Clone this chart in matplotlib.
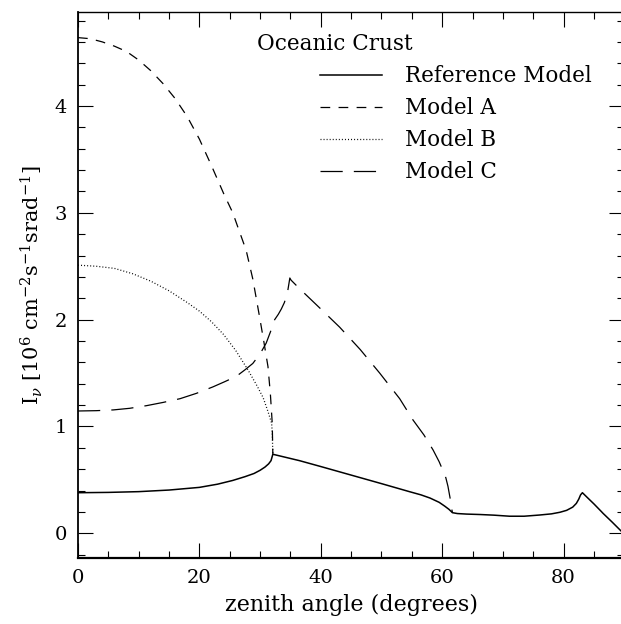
import matplotlib
matplotlib.use("Agg")
import matplotlib.pyplot as plt

# zenith angle (degrees) and intensity
ref_x = [0, 5, 10, 15, 20, 23, 25.5, 27.5, 29, 30, 30.8, 31.4, 31.8, 32.1,
         36.5, 40, 45, 50, 54.6, 56.5, 58.0, 59.5, 60.4, 61.1, 61.7,
         62.5, 64, 66.2, 68.5, 71.1, 73.5, 76.0, 78, 79.4, 80.5, 81.5, 82.1,
         82.5, 82.8, 83.1, 84, 85, 86.2, 86.5, 88, 89.5, 90]
ref_y = [0.38, 0.383, 0.39, 0.405, 0.43, 0.46, 0.495, 0.53, 0.56, 0.59, 0.62, 0.65, 0.68, 0.74,
         0.68, 0.625, 0.545, 0.465, 0.39, 0.36, 0.33, 0.29, 0.255, 0.225, 0.193,
         0.185, 0.18, 0.176, 0.17, 0.16, 0.16, 0.171, 0.182, 0.197, 0.215, 0.245, 0.28,
         0.32, 0.36, 0.38, 0.33, 0.275, 0.205, 0.187, 0.105, 0.02, 0.0]

a_x = [0, 2, 4, 6, 8, 10, 12, 14, 16, 18, 20, 22, 24, 25.5, 26.5, 27.7, 28.8,
       29.9, 30.6, 31.3, 31.7, 32.0, 32.1]
a_y = [4.64, 4.63, 4.60, 4.56, 4.51, 4.43, 4.33, 4.21, 4.07, 3.90, 3.69, 3.44, 3.18,
       3.0, 2.84, 2.65, 2.38, 2.03, 1.80, 1.56, 1.30, 1.03, 0.74]

b_x = [0, 3, 6, 9, 12, 15, 18, 20, 22, 24, 26, 28, 29.5, 30.5, 31.3, 31.9, 32.0, 32.1]
b_y = [2.51, 2.50, 2.48, 2.43, 2.36, 2.27, 2.16, 2.08, 1.98, 1.86, 1.71, 1.53,
       1.38, 1.27, 1.14, 1.03, 0.95, 0.74]

c_x = [0, 3, 5.8, 8.5, 11.3, 14, 16.8, 19.5, 22.2, 24.2, 26.1, 27.5, 28.8, 30, 31.0,
       31.8, 32.4, 33.0, 33.5, 34.0, 34.5, 34.9, 35.1,
       36.5, 40, 43.1, 46.5, 49.7, 53.0, 55.2, 57, 58.5, 59.5, 60.1, 60.6, 60.95,
       61.3, 61.5, 61.7]
c_y = [1.145, 1.148, 1.155, 1.17, 1.195, 1.225, 1.26, 1.31, 1.37, 1.42, 1.47, 1.53,
       1.59, 1.68, 1.78, 1.90, 2.0, 2.05, 2.10, 2.16, 2.25, 2.39, 2.37,
       2.29, 2.10, 1.93, 1.72, 1.50, 1.26, 1.06, 0.92, 0.78, 0.67, 0.59, 0.52, 0.44,
       0.33, 0.25, 0.19]

plt.rcParams["font.family"] = "DejaVu Serif"
plt.rcParams["mathtext.fontset"] = "dejavuserif"
plt.rcParams["lines.scale_dashes"] = False

fig = plt.figure(figsize=(6.21, 6.24), dpi=100)
ax = fig.add_axes([0.1256, 0.1063, 0.8797, 0.8745])

ax.plot(ref_x, ref_y, color="black", lw=1.1, label="Reference Model")
ax.plot(a_x, a_y, color="black", lw=0.9, dashes=(7, 6), label="Model A")
ax.plot(b_x, b_y, color="black", lw=0.9, dashes=(0.7, 1.5), label="Model B")
ax.plot(c_x, c_y, color="black", lw=0.9, dashes=(16, 8), label="Model C")

ax.set_xlim(0, 90)
ax.set_ylim(-0.228, 4.88)
ax.set_xticks([0, 20, 40, 60, 80])
ax.set_xticks(range(0, 91, 5), minor=True)
ax.set_yticks([0, 1, 2, 3, 4])
ax.set_yticks([i * 0.2 for i in range(-1, 25)], minor=True)
ax.tick_params(which="both", direction="in", top=True, right=True,
               labelsize=14, width=0.8, pad=8)
ax.tick_params(which="major", length=11)
ax.tick_params(which="minor", length=5)
for s in ax.spines.values():
    s.set_linewidth(1.0)
ax.spines["bottom"].set_linewidth(1.6)
ax.spines["left"].set_linewidth(1.3)

ax.set_xlabel("zenith angle (degrees)", fontsize=16, labelpad=5)
ax.set_ylabel(r"I$_\nu$ [10$^6$ cm$^{-2}$s$^{-1}$srad$^{-1}$]", fontsize=15, labelpad=7)

ax.text(0.327, 0.942, "Oceanic Crust", transform=ax.transAxes, fontsize=15.5,
        ha="left", va="center")
ax.legend(loc="upper left", bbox_to_anchor=(0.4425, 0.902), frameon=False,
          fontsize=15.5, handlelength=2.9, handletextpad=1.05, labelspacing=0.46,
          borderpad=0, borderaxespad=0)

fig.savefig("out.png", dpi=100)
